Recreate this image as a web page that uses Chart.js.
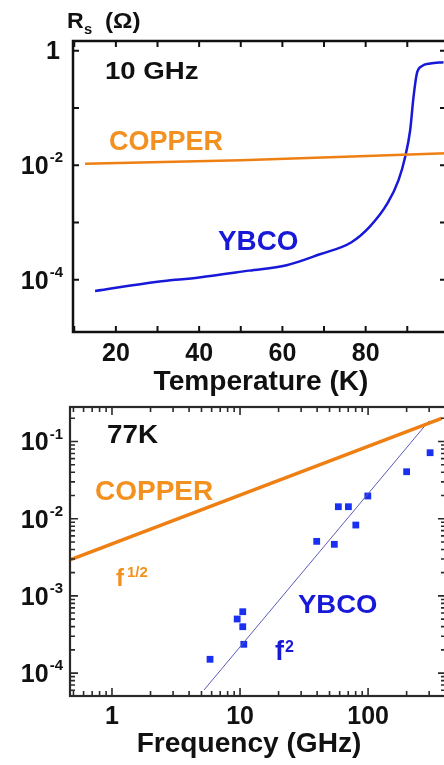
<!DOCTYPE html>
<html>
<head>
<meta charset="utf-8">
<script src="https://cdn.jsdelivr.net/npm/chart.js@4.4.1/dist/chart.umd.min.js"></script>
<style>
  html, body { margin: 0; padding: 0; background: #fff; overflow: hidden; width: 444px; height: 765px; }
  canvas { position: absolute; left: 0; }
  #chTemp { top: 0; }
  #chFreq { top: 390px; }
</style>
</head>
<body>
<canvas id="chTemp" width="470" height="400"></canvas>
<canvas id="chFreq" width="470" height="375"></canvas>
<script>
// top panel: Rs vs temperature at 10 GHz
var tempK     = [15, 30, 40, 52, 61, 69, 76.5, 81, 85.3, 87.9, 89.5, 90.7, 91.5, 92.3, 93.5, 95.5, 98.7];
var ybcoRsT   = [6.4e-5, 9.3e-5, 1.1e-4, 1.45e-4, 1.8e-4, 2.8e-4, 4.5e-4, 8.5e-4, 2.2e-3, 5.5e-3, 0.0141, 0.0413, 0.157, 0.40, 0.54, 0.60, 0.63];
var copperT   = [12.6, 50, 75, 100];
var copperRsT = [0.0107, 0.0122, 0.0141, 0.0163];
var tempLabels = [20, 40, 60, 80];
var tempTicks  = [10, 20, 30, 40, 50, 60, 70, 80, 90];

// bottom panel: Rs vs frequency at 77 K
var freqGHz   = [5.83, 9.5, 10.5, 10.5, 10.7, 39.7, 54.5, 58.6, 70.2, 80.2, 99.5, 200, 305];
var ybcoRsF   = [1.51e-4, 5.02e-4, 6.24e-4, 3.99e-4, 2.36e-4, 5.09e-3, 4.66e-3, 0.0143, 0.0143, 0.00828, 0.0197, 0.0406, 0.0716];
var copperF   = [0.47, 375];
var copperRsF = [0.00292, 0.2];
var fitF      = [5.23, 300];
var fitRsF    = [6.04e-5, 0.186];
var freqLabels = [1, 10, 100];
var rsExpsT = [0, -2, -4];
var rsExpsF = [-1, -2, -3, -4];

var orange = '#ee7f12';
var orangeText = '#f2911f';
var blue = '#1818d8';
var FONT = '"Liberation Sans", Arial, sans-serif';

function xy(xs, ys) { return xs.map(function (v, i) { return {x: v, y: ys[i]}; }); }

function txt(ctx, s, x, y, size, color, align, sx, base) {
  ctx.save();
  ctx.font = 'bold ' + size + 'px ' + FONT;
  ctx.fillStyle = color;
  ctx.textAlign = align || 'left';
  ctx.textBaseline = base || 'middle';
  ctx.translate(x, y);
  ctx.scale(sx || 1, 1);
  ctx.fillText(s, 0, 0);
  ctx.restore();
}

// "10" with a raised exponent, right edge at xr
function powLabel(ctx, exp, xr, y) {
  if (exp === 0) { txt(ctx, '1', xr - 3, y + 1, 25, '#111', 'right'); return; }
  ctx.save();
  ctx.font = 'bold 15px ' + FONT;
  var w = ctx.measureText(String(exp)).width;
  ctx.restore();
  txt(ctx, '10', xr - w - 1, y + 2, 25, '#111', 'right');
  txt(ctx, String(exp), xr - w, y - 3, 15, '#111', 'left', 1, 'alphabetic');
}

function logTicks(lo, hi) {
  var out = [];
  for (var e = Math.floor(Math.log10(lo)); e <= Math.ceil(Math.log10(hi)); e++) {
    for (var m = 1; m < 10; m++) {
      var v = m * Math.pow(10, e);
      if (v >= lo && v <= hi) out.push([v, m === 1 ? 8 : 5]);
    }
  }
  return out;
}

function frame(chart, c) {
  var ctx = chart.ctx, a = chart.chartArea, sx = chart.scales.x, sy = chart.scales.y;
  ctx.save();
  ctx.strokeStyle = c.color;
  ctx.lineWidth = c.tickWidth;
  ctx.beginPath();
  c.xTicks.forEach(function (t) {
    var p = sx.getPixelForValue(t[0]);
    if (p < a.left + 1 || p > a.right - 1) return;
    ctx.moveTo(p, a.bottom); ctx.lineTo(p, a.bottom - t[1]);
    ctx.moveTo(p, a.top); ctx.lineTo(p, a.top + t[1]);
  });
  c.yTicks.forEach(function (t) {
    var p = sy.getPixelForValue(t[0]);
    if (p < a.top + 1 || p > a.bottom - 1) return;
    ctx.moveTo(a.left, p); ctx.lineTo(a.left + t[1], p);
    ctx.moveTo(a.right, p); ctx.lineTo(a.right - t[1], p);
  });
  ctx.stroke();
  ctx.lineWidth = c.width;
  ctx.strokeRect(a.left, a.top, a.right - a.left, a.bottom - a.top);
  ctx.restore();
}

function baseOptions(xType, xMin, xMax, yMin, yMax, yWidth, xHeight, padTop) {
  return {
    responsive: false,
    animation: false,
    devicePixelRatio: 1,
    layout: {padding: {top: padTop, right: 24, left: 0, bottom: 0}},
    plugins: {legend: {display: false}, tooltip: {enabled: false}},
    scales: {
      x: {type: xType, min: xMin, max: xMax, grid: {display: false}, border: {display: false},
          ticks: {display: false}, afterFit: function (s) { s.height = xHeight; }},
      y: {type: 'logarithmic', min: yMin, max: yMax, grid: {display: false}, border: {display: false},
          ticks: {display: false}, afterFit: function (s) { s.width = yWidth; }}
    }
  };
}

// top chart
var chTemp = document.getElementById('chTemp');
new Chart(chTemp, {
  type: 'scatter',
  data: {
    datasets: [
      {data: xy(copperT, copperRsT), showLine: true, borderColor: orange, borderWidth: 2.5, pointRadius: 0},
      {data: xy(tempK, ybcoRsT), showLine: true, borderColor: blue, borderWidth: 2.5, pointRadius: 0,
       cubicInterpolationMode: 'monotone'}
    ]
  },
  options: baseOptions('linear', 9.7, 99.3, 1.23e-5, 1.48, 73, 68, 41),
  plugins: [{
    id: 'tempDecor',
    afterDraw: function (chart) {
      var ctx = chart.ctx;
      frame(chart, {
        color: '#111', width: 2.5, tickWidth: 2,
        xTicks: tempTicks.map(function (v) { return [v, 6]; }),
        yTicks: rsExpsT.concat([-1, -3]).map(function (e) { return [Math.pow(10, e), 6]; })
      });
      tempLabels.forEach(function (v) {
        txt(ctx, String(v), chart.scales.x.getPixelForValue(v), 354, 25, '#111', 'center');
      });
      rsExpsT.forEach(function (e) {
        powLabel(ctx, e, 63, chart.scales.y.getPixelForValue(Math.pow(10, e)));
      });
      txt(ctx, 'Temperature (K)', 261, 383, 27, '#111', 'center', 1.04);
      txt(ctx, 'R', 67, 28, 22, '#111', 'left', 1.05, 'alphabetic');
      txt(ctx, 's', 84, 34, 14, '#111', 'left', 1.05, 'alphabetic');
      txt(ctx, '(\u03A9)', 105, 28, 22, '#111', 'left', 1.1, 'alphabetic');
      txt(ctx, '10 GHz', 105, 72, 24, '#111', 'left', 1.15);
      txt(ctx, 'COPPER', 109, 143, 27, orangeText, 'left', 1.0);
      txt(ctx, 'YBCO', 218, 243, 27, blue, 'left', 1.03);
    }
  }]
});

// bottom chart
var chFreq = document.getElementById('chFreq');
new Chart(chFreq, {
  type: 'scatter',
  data: {
    datasets: [
      {data: xy(copperF, copperRsF), showLine: true, borderColor: orange, borderWidth: 3.5, pointRadius: 0},
      {data: xy(fitF, fitRsF), showLine: true, borderColor: '#5a5ab8', borderWidth: 1, pointRadius: 0},
      {data: xy(freqGHz, ybcoRsF), showLine: false, pointStyle: 'rect', pointRadius: 4.8,
       backgroundColor: '#1a30f0', borderWidth: 0}
    ]
  },
  options: baseOptions('logarithmic', 0.47, 406, 5.05e-5, 0.28, 70, 69, 17),
  plugins: [{
    id: 'freqDecor',
    afterDraw: function (chart) {
      var ctx = chart.ctx;
      frame(chart, {
        color: '#2a2a2a', width: 2.2, tickWidth: 1.6,
        xTicks: logTicks(0.47, 406),
        yTicks: logTicks(5.05e-5, 0.28)
      });
      freqLabels.forEach(function (v) {
        txt(ctx, String(v), chart.scales.x.getPixelForValue(v), 327, 25, '#111', 'center');
      });
      rsExpsF.forEach(function (e) {
        powLabel(ctx, e, 63, chart.scales.y.getPixelForValue(Math.pow(10, e)));
      });
      txt(ctx, 'Frequency (GHz)', 249, 355, 27, '#111', 'center', 1.04);
      txt(ctx, '77K', 107, 46, 26, '#111', 'left', 1.07);
      txt(ctx, 'COPPER', 95, 102, 28, orangeText, 'left', 1.0);
      txt(ctx, 'f', 116, 196, 24, orangeText, 'left', 1.0, 'alphabetic');
      txt(ctx, '1/2', 127, 187, 15, orangeText, 'left', 1.0, 'alphabetic');
      txt(ctx, 'YBCO', 298, 216, 25, blue, 'left', 1.1);
      txt(ctx, 'f', 275, 270, 27, blue, 'left', 1.0, 'alphabetic');
      txt(ctx, '2', 285, 262, 16, blue, 'left', 1.0, 'alphabetic');
    }
  }]
});
</script>
</body>
</html>
